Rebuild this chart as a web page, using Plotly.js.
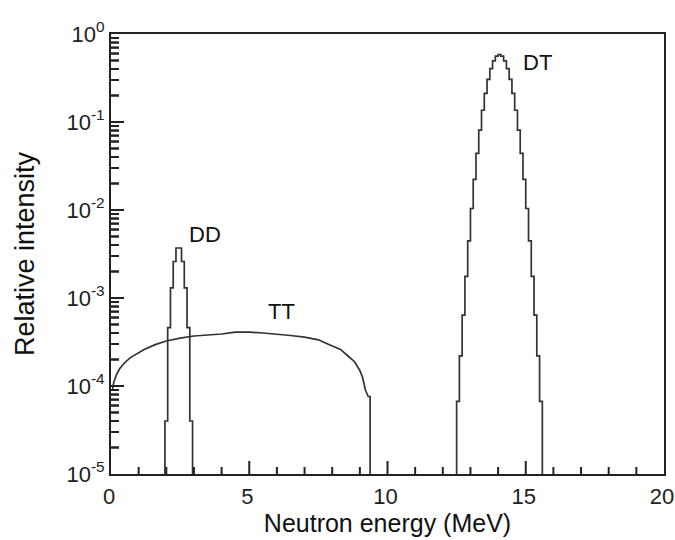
<!DOCTYPE html>
<html>
<head>
<meta charset="utf-8">
<script src="https://cdn.plot.ly/plotly-3.0.1.min.js"></script>
<style>html,body{margin:0;padding:0;background:#fff;}#chart{width:675px;height:540px;}</style>
</head>
<body>
<div id="chart"></div>
<script>
// DT peak (bin centres, MeV) and relative intensity
const dtEnergy = [12.45, 12.55, 12.65, 12.75, 12.85, 12.95, 13.05, 13.15, 13.25, 13.35, 13.45, 13.55, 13.65, 13.75, 13.85, 13.95, 14.05, 14.15, 14.25, 14.35, 14.45, 14.55, 14.65, 14.75, 14.85, 14.95, 15.05, 15.15, 15.25, 15.35, 15.45, 15.55, 15.65];
const dtIntensity = [1e-7, 6.7e-5, 2.2e-4, 6.4e-4, 1.76e-3, 4.45e-3, 0.0104, 0.0223, 0.0441, 0.0809, 0.136, 0.212, 0.305, 0.405, 0.495, 0.561, 0.582, 0.561, 0.495, 0.405, 0.305, 0.212, 0.136, 0.0809, 0.0441, 0.0223, 0.0104, 4.45e-3, 1.76e-3, 6.4e-4, 2.2e-4, 6.7e-5, 1e-7];

// DD peak
const ddEnergy = [1.9, 2.0, 2.1, 2.2, 2.3, 2.4, 2.5, 2.6, 2.7, 2.8, 2.9, 3.0];
const ddIntensity = [1e-7, 4e-5, 4.6e-4, 1.3e-3, 2.6e-3, 3.7e-3, 3.7e-3, 2.6e-3, 1.3e-3, 4.6e-4, 4e-5, 1e-7];

// TT continuum
const ttEnergy = [0.05, 0.1, 0.2, 0.3, 0.4, 0.5, 0.7, 0.9, 1.2, 1.6, 2.0, 2.5, 3.0, 3.5, 4.0, 4.5, 5.0, 5.5, 6.0, 6.5, 7.0, 7.5, 7.9, 8.3, 8.6, 8.8, 9.0, 9.1, 9.2, 9.3, 9.37, 9.37];
const ttIntensity = [9.0e-5, 1.1e-4, 1.35e-4, 1.55e-4, 1.7e-4, 1.85e-4, 2.1e-4, 2.3e-4, 2.6e-4, 2.95e-4, 3.25e-4, 3.5e-4, 3.7e-4, 3.8e-4, 3.9e-4, 4.1e-4, 4.1e-4, 4.0e-4, 3.9e-4, 3.75e-4, 3.6e-4, 3.35e-4, 2.95e-4, 2.6e-4, 2.15e-4, 1.9e-4, 1.5e-4, 1.25e-4, 9.0e-5, 7.6e-5, 7.6e-5, 1e-7];

// Axis ticks
const xTickVals = [0, 5, 10, 15, 20];
const xTickText = ['0', '5', '10', '15', '20'];
const yTickVals = [1e-5, 1e-4, 1e-3, 1e-2, 1e-1, 1];
const yTickText = ['10<sup>-5</sup>', '10<sup>-4</sup>', '10<sup>-3</sup>', '10<sup>-2</sup>', '10<sup>-1</sup>', '10<sup>0</sup>'];

// Peak labels
const labelText = ['DD', 'TT', 'DT'];
const labelX = [3.4, 6.15, 15.44];
const labelY = [5.2e-3, 7.1e-4, 0.474];

const tickCol = '#222';
const xMin = 0, xMax = 20;
const yLogMin = -5, yLogMax = 0;
const W = 675, H = 540, M = {l: 111, r: 11, t: 34, b: 66};
const plotW = W - M.l - M.r, plotH = H - M.t - M.b;

// x tick marks drawn inside the frame (axis decoration)
const shapes = [];
for (let v = 1; v < 20; v++) {
  const len = (v % 5 === 0) ? 13 : 7;
  shapes.push({type: 'line', xref: 'x', yref: 'paper',
    x0: v, x1: v, y0: 0, y1: len / plotH, line: {color: tickCol, width: 2}, layer: 'above'});
}
// y tick marks (inside the frame), as filled bars and as a decoration trace
const yTickX = [], yTickY = [];
function yTick(logv, len) {
  const v = Math.pow(10, logv);
  const p = (logv - yLogMin) / (yLogMax - yLogMin);
  yTickX.push(xMin, xMin + len / plotW * (xMax - xMin), null);
  yTickY.push(v, v, null);
  shapes.push({type: 'rect', xref: 'paper', yref: 'paper',
    x0: 0, x1: len / plotW, y0: p - 1 / plotH, y1: p + 1 / plotH,
    fillcolor: tickCol, line: {width: 0}, layer: 'above'});
}
for (let e = yLogMin; e < yLogMax; e++) {
  if (e > yLogMin) yTick(e, 13);
  for (let m = 2; m <= 9; m++) yTick(e + Math.log10(m), 8);
}

const lineStyle = {color: '#333', width: 1.7};
const traces = [
  {x: yTickX, y: yTickY, mode: 'lines', line: {color: tickCol, width: 2}, connectgaps: false, hoverinfo: 'skip', showlegend: false, name: 'yticks'},
  {x: ttEnergy, y: ttIntensity, mode: 'lines', line: Object.assign({shape: 'linear'}, lineStyle), name: 'TT', showlegend: false},
  {x: ddEnergy, y: ddIntensity, mode: 'lines', line: Object.assign({shape: 'hvh'}, lineStyle), name: 'DD', showlegend: false},
  {x: dtEnergy, y: dtIntensity, mode: 'lines', line: Object.assign({shape: 'hvh'}, lineStyle), name: 'DT', showlegend: false}
];

const axisFont = {family: '"Liberation Sans", Arial, sans-serif', size: 22, color: '#222'};

const layout = {
  width: W, height: H,
  margin: M,
  paper_bgcolor: '#fff', plot_bgcolor: '#fff',
  showlegend: false,
  xaxis: {
    range: [xMin, xMax], showgrid: false, zeroline: false,
    showline: true, mirror: true, linecolor: '#222', linewidth: 2,
    tickmode: 'array', tickvals: xTickVals, ticktext: xTickText,
    ticks: '', tickfont: axisFont, ticklabelshift: -2, ticklabelstandoff: 2,
    title: {text: 'Neutron energy (MeV)', font: {family: '"Liberation Sans", Arial, sans-serif', size: 25, color: '#111'}, standoff: 4}
  },
  yaxis: {
    type: 'log', range: [yLogMin, yLogMax], showgrid: false, zeroline: false,
    showline: true, mirror: true, linecolor: '#222', linewidth: 2,
    tickmode: 'array', tickvals: yTickVals, ticktext: yTickText,
    ticks: '', tickfont: axisFont,
    title: {text: 'Relative intensity', font: {family: '"Liberation Sans", Arial, sans-serif', size: 27, color: '#111'}, standoff: 24}
  },
  shapes: shapes,
  annotations: labelText.map((t, i) => ({
    x: labelX[i], y: Math.log10(labelY[i]), xref: 'x', yref: 'y',
    text: t, showarrow: false,
    font: {family: '"Liberation Sans", Arial, sans-serif', size: 22, color: '#111'}
  }))
};

Plotly.newPlot('chart', traces, layout, {displayModeBar: false, staticPlot: true});
</script>
</body>
</html>
